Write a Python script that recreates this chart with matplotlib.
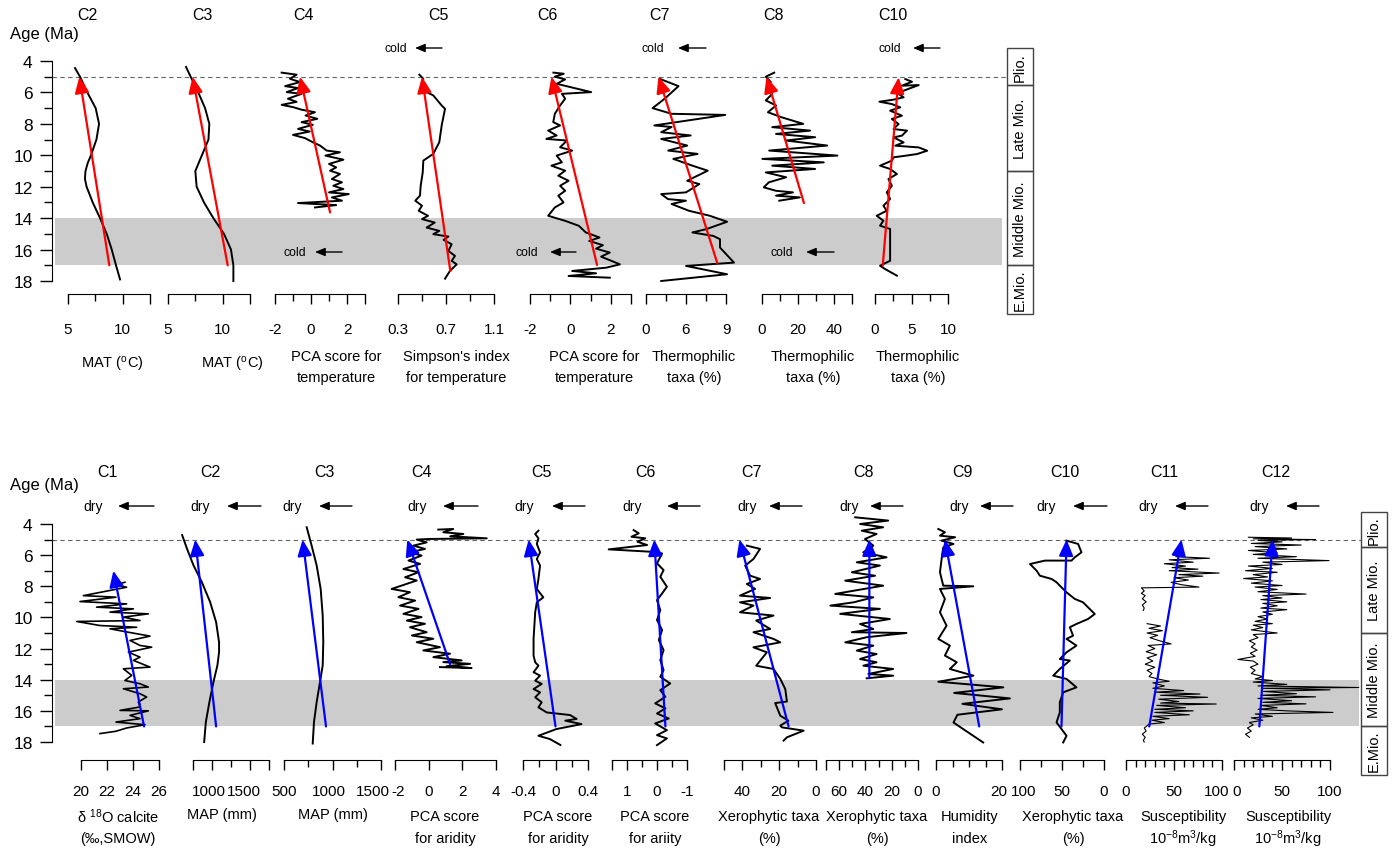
import numpy as np
import matplotlib.pyplot as plt
from matplotlib.patches import Rectangle
from matplotlib.transforms import ScaledTranslation

plt.rcParams['font.family'] = ['Liberation Sans', 'DejaVu Sans']
plt.rcParams['mathtext.fontset'] = 'custom'
plt.rcParams['mathtext.rm'] = 'Liberation Sans'
plt.rcParams['mathtext.default'] = 'regular'

W, H = 1394, 853
nan = np.nan

# ---------------- upper row: temperature records ----------------
t_c2_age = [4.45, 5.0, 6.0, 7.0, 8.0, 9.0, 10.0, 10.5, 11.0, 11.5, 12.0, 13.0, 14.0, 15.0, 16.0, 17.0, 17.9]
t_c2_val = [5.64, 6.1, 6.77, 7.53, 7.84, 7.6, 7.1, 6.8, 6.6, 6.55, 6.7, 7.26, 7.93, 8.54, 9.0, 9.39, 9.76]
t_c2_trend = [(8.78, 17.0), (6.04, 5.0)]

t_c3_age = [4.38, 5.0, 6.0, 7.0, 8.0, 9.0, 10.0, 11.0, 12.0, 13.0, 14.0, 15.0, 16.0, 17.0, 18.0]
t_c3_val = [6.65, 7.07, 7.77, 8.39, 8.78, 8.7, 8.1, 7.5, 7.62, 8.29, 9.15, 10.12, 10.76, 10.98, 10.98]
t_c3_trend = [(10.46, 17.0), (7.25, 5.0)]

t_c4_age = [4.74, 4.87, 5.13, 5.34, 5.6, 5.72, 5.98, 6.09, 6.4, 6.6, 6.79, 6.94, 7.1, 7.26, 7.47, 7.68,
            7.89, 8.06, 8.32, 8.49, 8.7, 8.91, 9.17, 9.38, 9.7, 9.81, 10.02, 10.28, 10.55, 10.77, 10.98,
            11.19, 11.51, 11.72, 11.94, 12.15, 12.36, 12.47, 12.68, 12.89, 13.04, 13.17, 13.32]
t_c4_val = [-1.63, -0.8, -1.17, -0.61, -1.44, -0.72, -1.35, -0.52, -1.28, -0.8, -1.63, -0.98, -0.52, 0.22,
            -0.3, 0.35, -0.52, 0.1, -0.72, -0.07, -1.0, -0.33, 0.1, 0.5, 0.87, 1.61, 0.8, 1.8, 1.0, 1.4,
            1.06, 1.61, 1.16, 1.72, 1.24, 1.8, 1.0, 2.1, 1.16, 1.72, -0.72, 1.4, 0.22]
t_c4_trend = [(1.06, 13.64), (-0.61, 5.0)]

t_c5_age = [4.87, 5.13, 5.66, 5.98, 6.19, 6.83, 7.04, 8.1, 9.17, 9.91, 10.34, 11.09, 11.94, 12.57, 12.89,
            13.21, 13.53, 13.85, 14.06, 14.28, 14.6, 14.81, 15.02, 15.17, 15.38, 15.66, 16.09, 16.4,
            16.72, 16.94, 17.36, 17.85]
t_c5_val = [0.478, 0.511, 0.5, 0.539, 0.594, 0.664, 0.692, 0.664, 0.644, 0.594, 0.511, 0.506, 0.489,
            0.483, 0.444, 0.5, 0.472, 0.55, 0.5, 0.606, 0.539, 0.644, 0.594, 0.72, 0.68, 0.747, 0.72,
            0.775, 0.747, 0.789, 0.733, 0.692]
t_c5_trend = [(0.736, 17.36), (0.5, 5.0)]

t_c6_age = [4.74, 4.81, 5.0, 5.17, 5.45, 5.98, 6.09, 6.4, 6.83, 7.36, 7.89, 8.1, 8.43, 8.74, 8.96, 9.06,
            9.49, 9.7, 10.02, 10.45, 10.66, 10.98, 11.3, 11.62, 11.94, 12.26, 12.57, 13.0, 13.32, 13.85,
            14.17, 14.49, 14.91, 15.23, 15.45, 15.72, 15.94, 16.19, 16.45, 16.94, 17.15, 17.36, 17.51,
            17.68, 17.79]
t_c6_val = [-0.84, -0.33, -0.77, -0.26, -0.68, 1.03, -0.42, -0.26, -0.51, -0.77, -0.85, -0.51, -1.1,
            -0.68, -1.19, -0.17, -0.51, 0.09, -0.68, -0.42, -0.94, -0.26, -0.6, -0.09, -0.51, -0.26,
            -0.6, -0.34, -0.77, -1.1, -0.26, 0.42, 0.76, 1.44, 0.93, 1.61, 1.27, 1.95, 1.52, 2.45,
            1.78, 0.09, 1.27, -0.09, 1.95]
t_c6_trend = [(1.32, 16.98), (-0.94, 5.0)]

t_c7_age = [5.13, 5.6, 6.4, 7.0, 7.36, 7.43, 8.1, 8.2, 8.53, 8.74, 8.96, 9.38, 9.7, 9.91, 10.23, 10.66,
            10.98, 11.62, 11.83, 12.36, 12.47, 12.79, 12.89, 13.1, 13.53, 13.85, 14.23, 14.7, 14.91,
            15.13, 15.34, 15.87, 16.83, 17.04, 17.57, 18.0]
t_c7_val = [2.02, 4.88, 2.8, 0.99, 3.84, 11.89, 1.25, 3.84, 2.28, 6.7, 2.28, 6.18, 3.32, 7.73, 4.1, 6.96,
            9.26, 6.18, 8.0, 6.0, 2.28, 3.32, 6.0, 3.84, 6.44, 9.57, 12.16, 9.05, 6.96, 10.09, 11.1,
            11.1, 13.2, 6.0, 12.16, 2.28]
t_c7_trend = [(10.7, 16.87), (1.87, 5.0)]

t_c8_age = [4.74, 5.0, 5.34, 5.77, 6.09, 6.51, 6.83, 7.26, 7.57, 8.0, 8.21, 8.43, 8.64, 8.85, 9.06, 9.38,
            9.7, 10.02, 10.23, 10.45, 10.66, 10.87, 11.09, 11.4, 11.72, 12.04, 12.26, 12.36, 12.57,
            12.68, 12.89]
t_c8_val = [6.8, 2.1, 4.9, 2.1, 5.7, 2.1, 7.8, 3.3, 10.6, 22.9, 5.7, 26.7, 7.8, 29.5, 13.4, 36.2, 4.0,
            41.9, 0.2, 34.3, 5.7, 29.5, 2.1, 13.4, 3.8, 1.0, 7.8, 17.2, 7.8, 21.0, 9.6]
t_c8_trend = [(23.3, 13.04), (2.5, 5.0)]

t_c10_age = [5.15, 5.32, 5.57, 5.53, 5.89, 6.1, 6.31, 6.46, 6.59, 6.74, 6.95, 7.16, 7.48, 7.69, 8.01,
             8.33, 8.43, 8.75, 8.86, 9.18, 9.39, 9.5, 9.71, 9.92, 10.03, 10.13, 10.34, 10.66, 10.87,
             11.19, 11.51, 11.94, 12.36, 12.78, 13.21, 13.53, 13.85, 14.16, 14.48, 14.69, 15.12, 15.97,
             16.71, 17.03, 17.24, 17.66]
t_c10_val = [4.15, 5.07, 3.69, 5.99, 3.92, 3.23, 3.92, 2.54, 0.6, 2.31, 3.46, 2.07, 3.69, 2.31, 3.23,
             2.54, 4.38, 3.69, 2.54, 3.92, 2.77, 5.99, 7.15, 5.76, 4.15, 2.54, 2.31, 0.69, 2.07, 3.0,
             1.84, 2.31, 1.61, 2.07, 1.15, 1.61, 0.23, 1.15, 0.69, 2.07, 2.07, 2.07, 2.07, 0.69, 1.38, 3.0]
t_c10_trend = [(1.06, 17.03), (3.23, 5.04)]

# ---------------- lower row: moisture records ----------------
b_c1_age = [7.74, 7.91, 8.06, 8.6, 8.7, 8.98, 9.13, 9.34, 9.45, 9.66, 9.77, 9.98, 10.2, 10.26, 10.52,
            10.63, 10.73, 10.95, 11.2, 11.48, 11.8, 11.91, 12.23, 12.55, 12.76, 13.19, 13.3, 13.72,
            14.05, 14.26, 14.47, 14.58, 14.9, 15.11, 15.43, 15.75, 15.97, 16.0, 16.29, 16.5, 16.72,
            16.89, 17.1, 17.31, 17.46]
b_c1_val = [23.38, 22.62, 23.51, 20.18, 22.69, 19.92, 23.51, 21.2, 24.03, 22.23, 25.18, 23.26, 24.54,
            19.67, 21.46, 24.28, 22.23, 23.64, 25.31, 23.77, 24.54, 25.44, 23.64, 24.54, 24.03, 25.31,
            23.26, 23.9, 23.38, 24.54, 25.18, 23.26, 24.54, 25.05, 24.41, 24.54, 23.0, 25.18, 23.77,
            24.54, 22.69, 24.92, 23.51, 22.69, 21.46]
b_c1_trend = [(24.85, 17.0), (22.49, 7.0)]

b_c2_age = [4.71, 5.6, 6.67, 7.74, 9.02, 10.3, 11.59, 12.23, 13.08, 14.15, 15.43, 16.72, 18.0]
b_c2_val = [607, 672, 758, 867, 976, 1054, 1093, 1093, 1071, 1019, 966, 919, 897]
b_c2_trend = [(1054, 17.0), (780, 5.0)]

b_c3_age = [4.21, 5.39, 6.67, 8.17, 9.88, 11.59, 13.08, 14.15, 15.43, 16.72, 18.1]
b_c3_val = [734, 785, 837, 878, 899, 905, 899, 871, 837, 809, 796]
b_c3_trend = [(933, 17.0), (692, 5.0)]

b_c4_age = [4.36, 4.32, 4.53, 4.64, 4.79, 4.92, 4.96, 5.0, 5.18, 5.39, 5.6, 5.82, 6.03, 6.35, 6.56,
            6.89, 7.1, 7.42, 7.63, 8.17, 8.38, 8.7, 8.92, 9.24, 9.45, 9.77, 9.98, 10.2, 10.41, 10.63,
            10.95, 11.16, 11.37, 11.59, 11.91, 12.12, 12.33, 12.55, 12.76, 12.87, 12.98, 13.13, 13.25,
            13.19]
b_c4_val = [0.57, 1.46, 0.87, 2.06, 1.28, 3.45, 0.08, -0.71, -0.12, -0.91, -0.22, -1.11, -0.42, -1.2,
            -0.51, -1.5, -0.6, -1.4, -0.71, -2.2, -1.11, -1.8, -0.8, -1.7, -0.6, -1.5, -0.42, -1.3,
            -0.22, -1.11, -0.12, -1.0, 0.28, -0.71, 0.67, -0.32, 1.27, 0.28, 1.96, 0.87, 2.46, 1.07,
            2.55, 0.67]
b_c4_trend = [(1.27, 13.0), (-1.27, 5.0)]

b_c5_age = [4.43, 4.64, 4.92, 5.28, 5.82, 6.25, 6.67, 7.53, 8.17, 8.71, 9.03, 9.67, 10.53, 11.38, 12.45,
            12.88, 13.1, 13.52, 13.74, 14.06, 14.27, 14.6, 14.81, 15.13, 15.45, 15.77, 16.1, 16.27,
            16.52, 16.63, 16.85, 17.17, 17.6, 17.81, 18.19]
b_c5_val = [-0.21, -0.25, -0.21, -0.23, -0.19, -0.23, -0.19, -0.21, -0.23, -0.15, -0.23, -0.25, -0.26,
            -0.27, -0.27, -0.25, -0.21, -0.27, -0.19, -0.25, -0.17, -0.27, -0.19, -0.25, -0.17, -0.21,
            -0.11, 0.18, 0.26, 0.12, 0.32, 0.01, -0.21, -0.07, 0.06]
b_c5_trend = [(0.0, 17.0), (-0.33, 5.0)]

b_c6_age = [4.39, 4.6, 4.82, 4.92, 5.14, 5.35, 5.63, 5.78, 5.89, 6.53, 6.96, 7.39, 8.03, 8.46, 8.89,
            9.53, 10.17, 10.81, 11.45, 12.1, 12.74, 13.38, 13.81, 14.24, 14.67, 15.1, 15.52, 15.84,
            16.17, 16.49, 16.81, 17.24, 17.56, 17.77, 18.2]
b_c6_val = [0.78, 0.61, 0.85, 0.39, 0.65, 0.33, 1.61, 0.22, -0.17, 0.0, -0.22, -0.11, -0.33, -0.17, 0.0,
            -0.11, 0.0, -0.17, -0.06, -0.22, -0.11, -0.22, -0.11, -0.44, -0.11, -0.28, 0.06, -0.28,
            0.0, -0.39, 0.06, -0.33, 0.0, -0.33, 0.0]
b_c6_trend = [(-0.28, 17.0), (0.09, 5.0)]

b_c7_age = [5.39, 5.6, 6.25, 6.67, 7.32, 7.53, 7.85, 8.17, 8.6, 8.75, 9.03, 9.24, 9.67, 9.88, 10.2,
            10.74, 10.95, 11.38, 11.6, 11.92, 12.24, 13.1, 13.31, 13.95, 14.6, 15.4, 15.5, 16.31,
            16.63, 16.95, 17.06, 17.27, 17.7, 17.91]
b_c7_val = [37.6, 30.4, 34.0, 38.5, 35.8, 30.4, 37.6, 33.1, 41.3, 24.9, 41.3, 34.0, 41.3, 23.1, 32.5,
            24.9, 34.0, 23.1, 19.4, 34.0, 26.7, 32.5, 23.1, 19.4, 16.7, 15.8, 22.2, 19.4, 15.0, 19.4,
            18.5, 6.7, 15.8, 17.6]
b_c7_trend = [(14.9, 17.0), (41.6, 5.0)]

b_c8_age = [3.57, 3.78, 4.0, 4.21, 4.43, 4.64, 4.96, 5.39, 5.82, 6.14, 6.46, 6.67, 7.1, 7.32, 7.64, 7.96,
            8.49, 8.71, 9.03, 9.24, 9.45, 9.77, 10.1, 10.42, 10.74, 10.95, 11.0, 11.27, 11.6, 11.81,
            12.13, 12.35, 12.67, 12.88, 13.1, 13.31, 13.63, 13.74, 13.91]
b_c8_val = [47.8, 22.7, 44.1, 26.5, 42.8, 31.5, 40.3, 34.0, 41.6, 23.9, 46.6, 29.0, 50.3, 32.7, 55.4,
            26.5, 63.0, 34.0, 49.0, 66.7, 29.0, 59.2, 21.4, 44.1, 34.0, 50.3, 8.8, 39.0, 55.4, 34.0,
            46.6, 31.5, 44.1, 31.5, 41.6, 18.9, 37.8, 18.9, 39.0]
b_c8_trend = [(37.0, 13.9), (37.0, 5.0)]

b_c9_age = [4.32, 4.53, 4.75, 4.85, 5.07, 5.28, 5.5, 6.25, 7.1, 7.96, 8.0, 8.17, 8.81, 9.67, 10.53,
            11.38, 11.81, 12.45, 12.88, 13.31, 13.74, 14.13, 14.49, 14.85, 15.2, 15.55, 15.9, 16.25,
            16.75, 18.03]
b_c9_val = [0.7, 2.7, 1.2, 5.8, 1.7, 5.3, 2.2, 1.7, 1.2, 2.2, 11.3, 1.2, 2.7, 1.2, 3.2, 0.7, 4.2, 2.7,
            6.3, 4.2, 11.3, 0.7, 20.4, 5.5, 22.4, 8.0, 20.0, 6.5, 5.3, 14.3]
b_c9_trend = [(13.1, 17.0), (2.7, 5.0)]

b_c10_age = [5.07, 5.28, 5.82, 6.14, 6.35, 6.35, 6.57, 7.0, 7.32, 7.53, 7.74, 7.96, 8.39, 8.81, 9.03,
             9.35, 9.78, 10.1, 10.42, 10.63, 11.17, 11.38, 11.81, 12.24, 12.67, 12.77, 13.31, 13.74,
             13.95, 14.49, 14.81, 15.45, 16.1, 16.74, 17.17, 17.6, 18.03]
b_c10_val = [44.6, 30.8, 26.8, 34.8, 38.7, 70.3, 88.1, 80.2, 76.3, 62.4, 56.5, 52.6, 44.6, 34.8, 24.9,
             19.0, 11.0, 19.0, 32.8, 40.7, 36.8, 44.6, 32.8, 44.6, 52.6, 40.7, 52.6, 60.5, 44.6, 32.8,
             48.6, 52.6, 52.6, 56.5, 50.6, 44.6, 48.6]
b_c10_trend = [(50.6, 17.0), (44.6, 5.0)]

b_c11_age = [6.1, 6.2, 6.3, 6.45, 6.55, 6.7, 6.8, 6.9, 7.0, 7.15, 7.25, 7.35, 7.45, 7.6, 7.75, 7.9, 8.05,
             8.1, 8.3, 8.45, 8.6, 8.8, 9.0, 9.2, 9.4, 9.55, nan, 10.4, 10.55, 10.7, 10.85, 11.0, 11.15,
             11.3, 11.5, 11.7, 11.8, 12.0, 12.2, 12.4, 12.6, 12.8, 13.0, 13.2, 13.4, 13.6, 13.8, 13.95,
             14.1, 14.2, 14.4, 14.55, 14.7, 14.8, 14.92, 15.0, 15.13, 15.25, 15.4, 15.5, 15.56, 15.65,
             15.8, 15.9, 16.0, 16.1, 16.25, 16.35, 16.5, 16.6, 16.75, 16.85, 16.95, 17.1, 17.3, 17.5,
             17.7, 17.9, 18.0]
b_c11_val = [52, 87, 45, 70, 40, 62, 48, 75, 45, 97, 55, 80, 50, 65, 47, 58, 76, 16, 19, 16, 20, 17, 21,
             17, 19, 18, nan, 22, 36, 24, 38, 22, 33, 25, 35, 47, 23, 30, 21, 32, 22, 28, 20, 30, 22,
             27, 24, 33, 45, 28, 40, 28, 60, 30, 77, 36, 85, 34, 55, 36, 94, 32, 62, 30, 70, 30, 66, 28,
             45, 27, 40, 24, 22, 19, 21, 17, 20, 18, 19]
b_c11_trend = [(24.2, 17.0), (57.8, 5.0)]

b_c12_age = [4.85, 4.9, 4.95, 5.0, 5.05, 5.15, 5.25, 5.35, 5.45, 5.6, 5.7, 5.85, 5.95, 6.1, 6.2, 6.35,
             6.45, 6.6, 6.7, 6.85, 7.0, 7.1, 7.25, 7.4, 7.5, 7.65, 7.8, 7.95, 8.05, 8.2, 8.35, 8.5, 8.6,
             8.75, 8.85, 9.0, 9.1, 9.25, 9.4, 9.5, 9.65, 9.8, 9.95, 10.1, 10.25, 10.4, 10.5, 10.65,
             10.8, 11.0, 11.1, 11.3, 11.5, 11.7, 11.9, 12.1, 12.3, 12.5, 12.7, 12.8, 13.0, 13.2, 13.4,
             13.6, 13.8, 13.95, 14.05, 14.15, 14.3, 14.4, 14.5, 14.55, 14.65, 14.75, 14.9, 15.0, 15.1,
             15.2, 15.35, 15.45, 15.55, 15.65, 15.8, 15.9, 16.0, 16.1, 16.2, 16.35, 16.45, 16.6, 16.75,
             16.9, 17.1, 17.3, 17.5, 17.7]
b_c12_val = [15, 60, 20, 85, 25, 50, 18, 70, 22, 55, 15, 45, 20, 65, 25, 99, 30, 50, 15, 40, 12, 45, 20,
             35, 10, 40, 18, 50, 22, 45, 25, 75, 30, 50, 28, 55, 30, 45, 28, 55, 30, 40, 25, 35, 22, 40,
             20, 30, 18, 45, 20, 25, 16, 22, 18, 24, 17, 22, 4, 20, 25, 17, 22, 18, 30, 22, 40, 20, 55,
             25, 130, 30, 100, 30, 65, 28, 85, 25, 60, 30, 75, 28, 45, 25, 55, 103, 22, 40, 18, 30, 16,
             20, 14, 18, 12, 16]
b_c12_trend = [(26.4, 17.0), (40.3, 5.0)]

# epochs drawn in the side column (Ma)
epochs = ['Plio.', 'Late Mio.', 'Middle Mio.', 'E.Mio.']
epoch_bounds = [3.2, 5.5, 11.0, 17.0, 20.1]
band = (14, 17)
age_ticks = list(range(4, 19, 2))


def rect(x0, y0, x1, y1):
    return [x0 / W, 1 - y1 / H, (x1 - x0) / W, (y1 - y0) / H]


fig = plt.figure(figsize=(W / 100, H / 100), dpi=100)


def draw_row(row, cols, color, hint_word, hints):
    top, bot = row['top'], row['bottom']
    ax0 = fig.add_axes(rect(52, top, row['right'], bot))
    ax0.patch.set_visible(False)
    ax0.set_xlim(0, 1)
    ax0.set_ylim(18, 4)
    for s in ('top', 'right', 'bottom'):
        ax0.spines[s].set_visible(False)
    ax0.set_xticks([])
    ax0.set_yticks(age_ticks)
    ax0.set_yticks(range(5, 18, 2), minor=True)
    ax0.tick_params(axis='y', which='major', length=9, width=1, pad=5, labelsize=12.5)
    ax0.tick_params(axis='y', which='minor', length=5.5, width=1)
    wpx = row['right'] - 52
    ax0.axhspan(band[0], band[1], xmin=3 / wpx, xmax=(row['band_end'] - 52) / wpx,
                color='#cccccc', lw=0, zorder=0)
    ax0.axhline(5, color='#666666', lw=0.8, ls=(0, (4, 3)), zorder=1)
    fig.text(10 / W, 1 - row['age_y'] / H, 'Age (Ma)', ha='left', va='center', fontsize=12)

    # epoch column
    axg = fig.add_axes(rect(row['right'], top, row['right'] + 26, bot))
    axg.set_xlim(0, 1)
    axg.set_ylim(18, 4)
    axg.axis('off')
    for name, b0, b1 in zip(epochs, epoch_bounds[:-1], epoch_bounds[1:]):
        axg.add_patch(Rectangle((0, b0), 1, b1 - b0, fill=False, ec='#444444', lw=1, clip_on=False))
        axg.text(0.5, (b0 + b1) / 2, name, rotation=90, ha='center', va='center',
                 fontsize=10.5, clip_on=False)

    for col in cols:
        x0, x1 = col['x']
        ax = fig.add_axes(rect(x0, top, x1, bot))
        ax.patch.set_visible(False)
        for s in ('top', 'right', 'left'):
            ax.spines[s].set_visible(False)
        ax.spines['bottom'].set_position(('outward', row['offset']))
        ax.set_xlim(*col['xlim'])
        ax.set_ylim(18, 4)
        ax.set_yticks([])
        ends = (col['ticks'][0], col['ticks'][-1])
        is_major = [bool(l) or t in ends for t, l in zip(col['ticks'], col['labels'])]
        major = [t for t, m in zip(col['ticks'], is_major) if m]
        mlab = [l for l, m in zip(col['labels'], is_major) if m]
        minor = [t for t, m in zip(col['ticks'], is_major) if not m]
        ax.set_xticks(major, mlab)
        ax.set_xticks(minor, minor=True)
        ax.tick_params(axis='x', which='major', length=7.5, width=1, pad=row['pad'], labelsize=11)
        ax.tick_params(axis='x', which='minor', length=5, width=1)
        # nudge crowded tick labels apart as in the original
        for lab, dx in col.get('shift', {}).items():
            tick = ax.xaxis.get_major_ticks()[mlab.index(lab)]
            tick.label1.set_transform(tick.label1.get_transform()
                                      + ScaledTranslation(dx / 100, 0, fig.dpi_scale_trans))
        ax.plot(col['val'], col['age'], color='black', lw=col.get('lw', 1.4), clip_on=False)
        (tv, ta), (hv, hage) = col['trend']
        ax.annotate('', xy=(hv, hage), xytext=(tv, ta), annotation_clip=False,
                    arrowprops=dict(arrowstyle='-|>,head_length=0.75,head_width=0.33', color=color,
                                    lw=1.6, mutation_scale=13, shrinkA=0, shrinkB=0))
        fig.text(col['tx'] / W, 1 - row['title_y'] / H, col['name'], ha='center', va='center',
                 fontsize=11.5)
        lines = col['label']
        ys = [row['label1']] if len(lines) == 1 else row['label2']
        for line, y in zip(lines, ys):
            fig.text(col['lx'] / W, 1 - y / H, line, ha='center', va='center', fontsize=10.5)

    for xt, xtail, xhead, y in hints:
        fig.text(xt / W, 1 - y / H, hint_word, ha='center', va='center', fontsize=row['hint_fs'])
        ax0.annotate('', xy=(xhead, H - y), xytext=(xtail, H - y), xycoords='figure pixels',
                     textcoords='figure pixels', annotation_clip=False,
                     arrowprops=dict(arrowstyle='-|>,head_length=0.6,head_width=0.25', color='black',
                                     lw=1.0, mutation_scale=10, shrinkA=0, shrinkB=0))


top_row = dict(top=62, bottom=282, right=1007, band_end=1002, offset=9.4, pad=12.5, title_y=16,
               age_y=35, label1=365, label2=[357, 378], hint_fs=8.8)
bot_row = dict(top=525, bottom=743, right=1361, band_end=1359, offset=13, pad=9.5, title_y=473,
               age_y=486, label1=815, label2=[817, 839], hint_fs=10)

temp_label = ['PCA score for', 'temperature']
thermo_label = ['Thermophilic', 'taxa (%)']
top_cols = [
    dict(name='C2', age=t_c2_age, val=t_c2_val, trend=t_c2_trend, x=(68, 150), xlim=(5, 12.5),
         ticks=[5, 7.5, 10, 12.5], labels=['5', '', '10', ''], tx=87, lx=112, label=['MAT ($^{o}$C)']),
    dict(name='C3', age=t_c3_age, val=t_c3_val, trend=t_c3_trend, x=(168, 250), xlim=(5, 12.5),
         ticks=[5, 7.5, 10, 12.5], labels=['5', '', '10', ''], tx=202, lx=232, label=['MAT ($^{o}$C)']),
    dict(name='C4', age=t_c4_age, val=t_c4_val, trend=t_c4_trend, x=(275, 365), xlim=(-2, 3),
         ticks=[-2, -1, 0, 1, 2, 3], labels=['-2', '', '0', '', '2', ''], tx=303, lx=336, label=temp_label),
    dict(name='C5', age=t_c5_age, val=t_c5_val, trend=t_c5_trend, x=(398, 494), xlim=(0.3, 1.1),
         ticks=[0.3, 0.5, 0.7, 0.9, 1.1], labels=['0.3', '', '0.7', '', '1.1'], tx=438, lx=456,
         label=["Simpson's index", 'for temperature']),
    dict(name='C6', age=t_c6_age, val=t_c6_val, trend=t_c6_trend, x=(530, 631), xlim=(-2, 3),
         ticks=[-2, -1, 0, 1, 2, 3], labels=['-2', '', '0', '', '2', ''], tx=547, lx=594, label=temp_label),
    dict(name='C7', age=t_c7_age, val=t_c7_val, trend=t_c7_trend, x=(646, 726), xlim=(0, 12),
         ticks=[0, 3, 6, 9, 12], labels=['0', '', '6', '', '9'], tx=659, lx=694, label=thermo_label),
    dict(name='C8', age=t_c8_age, val=t_c8_val, trend=t_c8_trend, x=(762, 852), xlim=(0, 50),
         ticks=[0, 10, 20, 30, 40, 50], labels=['0', '', '20', '', '40', ''], tx=774, lx=813,
         label=thermo_label),
    dict(name='C10', age=t_c10_age, val=t_c10_val, trend=t_c10_trend, x=(875, 948), xlim=(0, 10),
         ticks=[0, 2.5, 5, 7.5, 10], labels=['0', '', '5', '', '10'], tx=893, lx=918, label=thermo_label),
]

arid = ['PCA score', 'for aridity']
xero = ['Xerophytic taxa', '(%)']
sus = ['Susceptibility', '10$^{-8}$m$^{3}$/kg']
sus_ticks = list(range(0, 101, 10))
sus_labels = ['0', '', '', '', '', '50', '', '', '', '', '100']
bot_cols = [
    dict(name='C1', age=b_c1_age, val=b_c1_val, trend=b_c1_trend, x=(81, 159), xlim=(20, 26), lw=1.2,
         ticks=[20, 22, 24, 26], labels=['20', '22', '24', '26'], tx=107, lx=118,
         label=['δ $^{18}$O calcite', '(‰,SMOW)']),
    dict(name='C2', age=b_c2_age, val=b_c2_val, trend=b_c2_trend, x=(193, 269), xlim=(750, 1750),
         ticks=[750, 1000, 1250, 1500, 1750], labels=['', '1000', '', '1500', ''], tx=210, lx=222,
         label=['MAP (mm)'], shift={'1000': -3, '1500': -6}),
    dict(name='C3', age=b_c3_age, val=b_c3_val, trend=b_c3_trend, x=(284, 381), xlim=(500, 1500),
         ticks=[500, 750, 1000, 1250, 1500], labels=['500', '', '1000', '', '1500'], tx=324, lx=333,
         label=['MAP (mm)'], shift={'1000': -4, '1500': -8}),
    dict(name='C4', age=b_c4_age, val=b_c4_val, trend=b_c4_trend, x=(395, 496), xlim=(-2, 4),
         ticks=[-2, 0, 2, 4], labels=['-2', '0', '2', '4'], tx=421, lx=445, label=arid,
         shift={'-2': 3}),
    dict(name='C5', age=b_c5_age, val=b_c5_val, trend=b_c5_trend, x=(523, 588), xlim=(-0.4, 0.4),
         ticks=[-0.4, -0.2, 0, 0.2, 0.4], labels=['-0.4', '', '0', '', '0.4'], tx=541, lx=558, label=arid),
    dict(name='C6', age=b_c6_age, val=b_c6_val, trend=b_c6_trend, x=(612, 687), xlim=(1.5, -1),
         ticks=[1.5, 1, 0.5, 0, -0.5, -1], labels=['', '1', '', '0', '', '-1'], tx=645, lx=655,
         label=['PCA score', 'for ariity']),
    dict(name='C7', age=b_c7_age, val=b_c7_val, trend=b_c7_trend, x=(724, 816), xlim=(50, 0),
         ticks=[50, 40, 30, 20, 10, 0], labels=['', '40', '', '20', '', '0'], tx=751, lx=769, label=xero),
    dict(name='C8', age=b_c8_age, val=b_c8_val, trend=b_c8_trend, x=(826, 918), xlim=(70, 0),
         ticks=[70, 60, 50, 40, 30, 20, 10, 0], labels=['', '60', '', '40', '', '20', '', '0'], tx=863,
         lx=877, label=xero),
    dict(name='C9', age=b_c9_age, val=b_c9_val, trend=b_c9_trend, x=(936, 1002), xlim=(0, 20),
         ticks=[0, 5, 10, 15, 20], labels=['0', '', '', '', '20'], tx=962, lx=970,
         label=['Humidity', 'index'], shift={'20': -3}),
    dict(name='C10', age=b_c10_age, val=b_c10_val, trend=b_c10_trend, x=(1020, 1104), xlim=(100, 0),
         ticks=[100, 75, 50, 25, 0], labels=['100', '', '50', '', '0'], tx=1065, lx=1073, label=xero,
         shift={'100': 4}),
    dict(name='C11', age=b_c11_age, val=b_c11_val, trend=b_c11_trend, x=(1126, 1222), xlim=(0, 100),
         lw=0.8, ticks=sus_ticks, labels=sus_labels, tx=1164, lx=1183, label=sus, shift={'100': -5}),
    dict(name='C12', age=b_c12_age, val=b_c12_val, trend=b_c12_trend, x=(1234, 1330), xlim=(0, 100),
         lw=0.8, ticks=sus_ticks, labels=sus_labels, tx=1276, lx=1288, label=sus, shift={'0': 3}),
]

# (text x, arrow tail x, arrow head x, y) in figure pixels
cold_hints = [(396, 442, 415, 49), (653, 706, 678, 49), (890, 940, 913, 49),
              (295, 342, 315, 253), (527, 576, 550, 253), (782, 834, 806, 253)]
dry_hints = [(93, 154, 118, 507), (200, 261, 227, 507), (292, 352, 319, 507), (417, 478, 443, 507),
             (524, 585, 552, 507), (632, 700, 667, 507), (747, 802, 769, 507), (849, 903, 870, 507),
             (959, 1013, 980, 507), (1046, 1107, 1073, 507), (1148, 1208, 1175, 507),
             (1259, 1319, 1286, 507)]

draw_row(top_row, top_cols, 'red', 'cold', cold_hints)
draw_row(bot_row, bot_cols, 'blue', 'dry', dry_hints)

fig.savefig('out.png', dpi=100)
